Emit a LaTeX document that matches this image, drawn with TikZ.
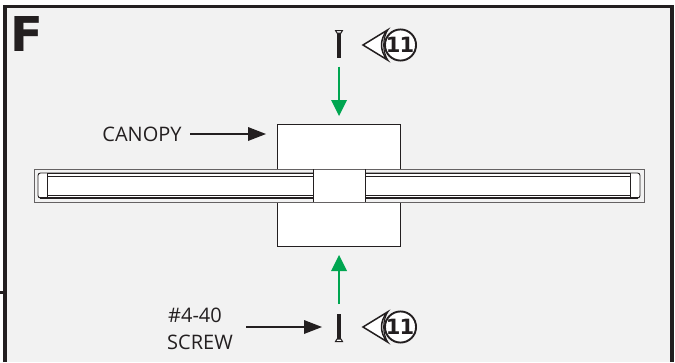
\documentclass[tikz,border=0pt]{standalone}
\usepackage{fontspec}
\setmainfont{Open Sans}
\newfontfamily\heavy{DejaVu Sans}
\definecolor{panel}{HTML}{F2F2F2}
\definecolor{frameblack}{HTML}{231F20}
\definecolor{arrowgreen}{HTML}{00A651}
\tikzset{
  lbl/.style={font=\fontsize{20}{22}\selectfont, text=frameblack, inner sep=0pt, align=center},
  whitebox/.style={draw=frameblack, fill=white, line width=0.9pt},
  greenline/.style={draw=arrowgreen, line width=1.8pt},
  greenhead/.style={fill=arrowgreen, draw=none},
  blackline/.style={draw=frameblack, line width=1.7pt},
  blackhead/.style={fill=frameblack, draw=none},
  badge/.style={circle, draw=frameblack, fill=white, line width=1.9pt, minimum size=30pt, inner sep=0pt,
    font=\heavy\bfseries\fontsize{21}{22}\selectfont, text=frameblack},
  pointer/.style={draw=frameblack, fill=white, line width=1.5pt, line join=miter},
  thinline/.style={draw=frameblack, line width=0.7pt},
  thickline/.style={draw=frameblack, line width=2pt},
  greyline/.style={draw=frameblack!70, line width=0.9pt},
}
\newcommand{\pointerbadge}[3]{% x, y, name
  \draw[pointer] (#1-37.5,#2) -- (#1-13,#2-15) .. controls (#1-21,#2-6) and (#1-21,#2+6) .. (#1-13,#2+15) -- cycle;
  \draw[frameblack, line width=1.2pt] (#1-13,#2-15) .. controls (#1-18,#2-6) and (#1-18,#2+6) .. (#1-13,#2+15);
  \node[badge] (#3) at (#1,#2) {\kern-1pt 1\kern-1pt 1};
}
\begin{document}
\begin{tikzpicture}[x=1pt,y=-1pt]
\useasboundingbox (0,0) rectangle (675,362);
\fill[white] (0,0) rectangle (675,362);
% panel
\fill[panel] (5,6.5) rectangle (672,362);
\draw[frameblack, line width=3.6pt] (5,362) -- (5,6.5) -- (672,6.5) -- (672,362);
\coordinate (tickA) at (0,292.5);
\coordinate (tickB) at (3,292.5);
\draw[frameblack, line width=2.6pt] (tickA) -- (tickB);
\node[font=\heavy\bfseries\fontsize{48}{50}\selectfont, text=frameblack, inner sep=0pt, anchor=base west] (letter) at (10.5,51) {F};
% canopy
\node[whitebox, minimum width=123pt, minimum height=122pt, inner sep=0pt] (canopy) at (339,185.5) {};
% bar
\draw[greyline, fill=panel] (34,169) rectangle (644,202);
\draw[frameblack, line width=0.9pt, fill=white, rounded corners=2.5pt] (38,173) rectangle (640,198);
\fill[white] (47.5,176) rectangle (630.7,195);
\draw[thinline] (47.5,173.5) rectangle (630.7,176.2);
\draw[thinline] (47.5,176.2) -- (47.5,197);
\draw[thinline] (630.7,176.2) -- (630.7,197);
\draw[thinline] (47.5,195) -- (630.7,195);
\draw[thickline] (40,197.5) -- (638,197.5);
% centre block
\fill[white] (313,169) rectangle (365.5,202);
\draw[greyline] (313,169) -- (365.5,169);
\draw[greyline] (313,202) -- (365.5,202);
\draw[frameblack, line width=0.9pt] (313,169) -- (313,202);
\draw[frameblack, line width=0.9pt] (365.5,169) -- (365.5,202);
% screws
\draw[frameblack, line width=4.6pt] (339,32) -- (339,58);
\draw[frameblack, fill=white, line width=1pt] (335.5,30.5) -- (342.5,30.5) -- (341,33) -- (337,33) -- cycle;
\draw[frameblack, line width=4.6pt] (339,314) -- (339,340);
\draw[frameblack, fill=white, line width=1pt] (335.5,341.5) -- (342.5,341.5) -- (341,339) -- (337,339) -- cycle;
% green arrows
\coordinate (gt1) at (339,66.5);
\coordinate (gt2) at (339,101);
\coordinate (gb1) at (339,304);
\coordinate (gb2) at (339,270);
\draw[greenline] (gt1) -- (gt2);
\fill[greenhead] (331,100) -- (347,100) -- (339,116) -- cycle;
\draw[greenline] (gb1) -- (gb2);
\fill[greenhead] (331,271) -- (347,271) -- (339,255) -- cycle;
% labels and arrows
\node[lbl, anchor=base] (canopylabel) at (142,141.5) {CANOPY};
\coordinate (ca) at (190,134);
\coordinate (cb) at (252,134);
\draw[blackline] (ca) -- (cb);
\fill[blackhead] (248,127) -- (266,134) -- (248,141) -- cycle;
\node[lbl, anchor=base] (sizelabel) at (195,322) {\#4-40};
\node[lbl, anchor=base] (screwlabel) at (200,349) {SCREW};
\coordinate (sa) at (246,327);
\coordinate (sb) at (308,327);
\draw[blackline] (sa) -- (sb);
\fill[blackhead] (304,320) -- (322,327) -- (304,334) -- cycle;
% badges
\pointerbadge{400.5}{45}{badgetop}
\pointerbadge{400.5}{327}{badgebottom}
\end{tikzpicture}
\end{document}
